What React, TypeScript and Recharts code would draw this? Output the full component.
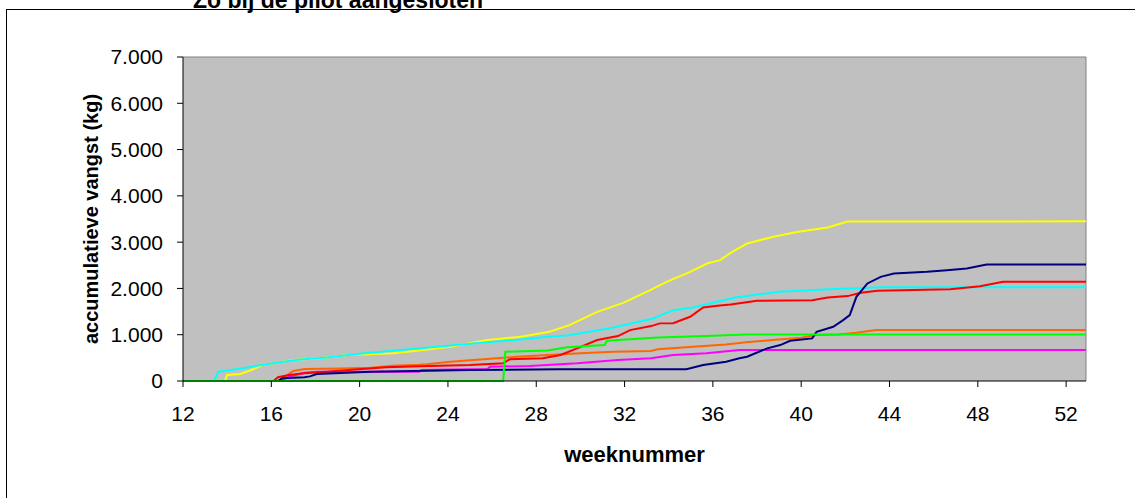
import React from "react";
import { LineChart, Line, XAxis, YAxis, CartesianGrid, ReferenceLine } from "recharts";

const xTicks = [12, 16, 20, 24, 28, 32, 36, 40, 44, 48, 52];
const yTicks = [0, 1000, 2000, 3000, 4000, 5000, 6000, 7000];

const yellowWeeks = [12, 13.9, 14.0, 14.6, 15.1, 15.6, 17, 18.2, 19.5, 21.5, 22.7, 24.1, 25.8, 27.3, 28.6, 29.5, 30.76, 31.94, 33.16, 33.9, 34.97, 35.74, 36.33, 36.8, 37.55, 38.7, 39.8, 41.2, 42.1, 52.9];
const yellowValues = [0, 0, 130, 150, 237, 345, 453, 490, 561, 597, 660, 740, 884, 956, 1063, 1208, 1495, 1689, 1963, 2142, 2358, 2539, 2610, 2767, 2970, 3113, 3221, 3315, 3445, 3450];

const cyanWeeks = [12, 13.4, 13.6, 14.5, 15.5, 16.3, 17.2, 18.5, 20, 21, 22.7, 24, 25.5, 27, 28.5, 29.5, 30, 31.5, 33.3, 34.2, 35.1, 37, 39, 41.3, 43.6, 52.9];
const cyanValues = [0, 0, 200, 260, 340, 400, 460, 510, 590, 630, 705, 760, 826, 880, 956, 990, 1030, 1158, 1352, 1531, 1590, 1805, 1927, 1984, 2025, 2025];

const navyWeeks = [12, 16.3, 16.5, 17.5, 17.75, 18.06, 20.5, 25, 29, 34.8, 35.56, 36.6, 37.2, 37.55, 38.46, 39.05, 39.5, 40.5, 40.7, 41.45, 41.9, 42.2, 42.5, 43, 43.6, 44.2, 45.7, 46.6, 47.5, 48.4, 52.9];
const navyValues = [0, 0, 58, 80, 100, 151, 200, 237, 252, 252, 345, 416, 490, 524, 705, 776, 869, 921, 1063, 1171, 1316, 1424, 1818, 2107, 2250, 2323, 2358, 2394, 2431, 2517, 2517];

const redWeeks = [12, 16.1, 16.3, 16.8, 17.5, 18.5, 19.5, 21.2, 22.7, 25, 26.5, 26.8, 28.3, 29.1, 29.85, 30.76, 31.7, 32.25, 33.2, 33.6, 34.2, 34.97, 35.56, 36.2, 36.8, 38, 40.5, 41.2, 42.1, 42.7, 43.45, 46.75, 48.1, 49.15, 52.9];
const redValues = [0, 0, 80, 130, 166, 200, 237, 295, 320, 345, 381, 468, 490, 561, 705, 884, 971, 1100, 1186, 1245, 1250, 1387, 1590, 1624, 1654, 1732, 1747, 1805, 1834, 1905, 1948, 1984, 2049, 2142, 2142];

const orangeWeeks = [12, 16.3, 17, 17.5, 19.1, 20.5, 21.5, 22.7, 23.05, 24.1, 25.6, 27.1, 30, 31.5, 33.2, 33.5, 35.1, 36.6, 37.5, 38.7, 40, 40.7, 41.7, 42.5, 43.4, 52.9];
const orangeValues = [0, 0, 216, 259, 270, 285, 330, 350, 360, 416, 468, 524, 597, 632, 647, 684, 740, 791, 835, 884, 934, 992, 1007, 1040, 1100, 1100];

const greenWeeks = [12, 26.5, 26.6, 28.5, 29.4, 31.1, 31.2, 33.5, 36, 37.5, 52.9];
const greenValues = [0, 0, 632, 660, 727, 776, 869, 942, 978, 1006, 1006];

const magentaWeeks = [12, 16.4, 16.8, 17.5, 18.1, 22.7, 22.8, 25.8, 25.9, 27.7, 29.85, 31.7, 33.2, 34.2, 35.7, 37.2, 52.9];
const magentaValues = [0, 0, 93, 180, 200, 200, 237, 260, 309, 323, 381, 453, 490, 561, 597, 669, 669];

const toData = (weeks: number[], values: number[]) => weeks.map((w, i) => ({ w, v: values[i] }));

const series = [
  { name: "yellow", color: "#FFFF00", data: toData(yellowWeeks, yellowValues) },
  { name: "cyan", color: "#00FFFF", data: toData(cyanWeeks, cyanValues) },
  { name: "orange", color: "#FF6600", data: toData(orangeWeeks, orangeValues) },
  { name: "magenta", color: "#FF00FF", data: toData(magentaWeeks, magentaValues) },
  { name: "red", color: "#FF0000", data: toData(redWeeks, redValues) },
  { name: "navy", color: "#000080", data: toData(navyWeeks, navyValues) },
  { name: "green", color: "#00FF00", data: toData(greenWeeks, greenValues) },
];

const fmt = (v: number) => {
  if (v === 0) return "0";
  const s = String(Math.round(v));
  return s.replace(/\B(?=(\d{3})+(?!\d))/g, ".");
};

const FONT = "'Liberation Sans', Arial, sans-serif";

export default function App() {
  return (
    <div style={{ position: "absolute", left: 0, top: 0, width: 1135, height: 498, overflow: "hidden", background: "#fff" }}>
      <div style={{ position: "absolute", left: 6, top: 9, width: 1200, height: 600, borderTop: "1px solid #000", borderLeft: "1px solid #000" }} />
      <div style={{ position: "absolute", left: 193, top: -13, fontFamily: FONT, fontWeight: "bold", fontSize: 23, lineHeight: "26px", whiteSpace: "nowrap", color: "#000" }}>
        Zo bij de pilot aangesloten
      </div>
      <div style={{ position: "absolute", left: 0, top: 0 }}>
        <LineChart width={1135} height={498} margin={{ top: 57, right: 49, left: 103, bottom: 27 }}>
          <CartesianGrid horizontal={false} vertical={false} fill="#C0C0C0" stroke="none" />
          <XAxis
            type="number"
            dataKey="w"
            domain={[12, 52.9]}
            ticks={xTicks}
            allowDataOverflow
            height={90}
            stroke="#000"
            tickSize={6}
            tickMargin={19}
            tick={{ fill: "#000", fontSize: 21, fontFamily: FONT }}
            label={{ value: "weeknummer", position: "insideBottom", offset: 9, style: { fontWeight: "bold", fontSize: 22, fill: "#000", fontFamily: FONT } }}
          />
          <YAxis
            type="number"
            dataKey="v"
            domain={[0, 7000]}
            ticks={yTicks}
            width={80}
            stroke="#000"
            tickSize={6}
            tickMargin={14}
            tickFormatter={fmt}
            tick={{ fill: "#000", fontSize: 21, fontFamily: FONT }}
            label={{ value: "accumulatieve vangst (kg)", angle: -90, position: "insideLeft", offset: -12, style: { fontWeight: "bold", fontSize: 20, fill: "#000", fontFamily: FONT, textAnchor: "middle" } }}
          />
          <ReferenceLine y={7000} stroke="#808080" strokeWidth={1} />
          <ReferenceLine x={52.9} stroke="#808080" strokeWidth={1} />
          {series.map((s) => (
            <Line
              key={s.name}
              data={s.data}
              dataKey="v"
              type="linear"
              stroke={s.color}
              strokeWidth={2}
              dot={false}
              activeDot={false}
              isAnimationActive={false}
            />
          ))}
        </LineChart>
      </div>
    </div>
  );
}
